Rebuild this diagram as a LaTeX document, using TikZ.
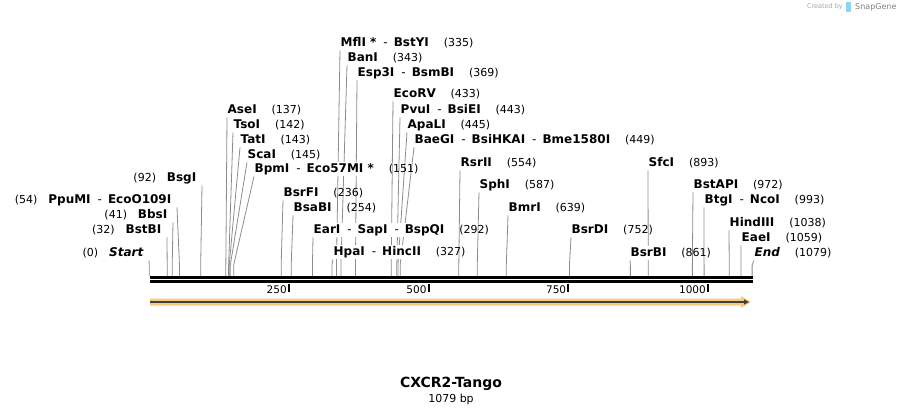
\documentclass[tikz,border=0pt]{standalone}
\usepackage{fontspec}
\setmainfont{DejaVu Sans}
\usetikzlibrary{arrows.meta,positioning,backgrounds}

\definecolor{featorange}{HTML}{F9C97C}
\definecolor{snapblue}{HTML}{8FD3F4}
\newcommand{\dsh}{\hspace{7pt}\mdseries-\hspace{6pt}\bfseries}

\begin{document}
\begin{tikzpicture}[x=1pt,y=-1pt]
            \tikzstyle{enz}=[inner xsep=0.5pt,inner ysep=1.5pt,fill=white,text height=9pt,text depth=2.4pt,font=\bfseries\fontsize{12}{14}\selectfont]
            \tikzstyle{num}=[inner sep=0pt,font=\fontsize{11}{13}\selectfont]
            \tikzstyle{cut}=[draw=black!45,line width=0.8pt]
            \tikzstyle{ruler}=[inner sep=0pt,font=\fontsize{10.5}{12}\selectfont]
                \useasboundingbox (0,0) rectangle (904,415);

                % sites with the label on the left
                \foreach \id/\bp/\lx/\ly/\name in {
                    start/0/144/253/{\itshape Start},
                    bstBI/32/162/230/BstBI,
                    bbsI/41/168/215/BbsI,
                    ppuMI/54/172/200/{PpuMI\dsh EcoO109I},
                    bsgI/92/197/178/BsgI}
                {
                    \node[enz,anchor=east] (l-\id) at (\lx,\ly) {\name};
                    \node[num,base left=10pt of l-\id] (p-\id) {(\bp)};
                    \coordinate (c-\id) at (149.3+\bp*0.5587,276);
                    \begin{scope}[on background layer]
                        \draw[cut] ([xshift=5pt]l-\id.south east) -- ([yshift=11pt]c-\id) -- (c-\id);
                    \end{scope}
                }

                % sites with the label on the right
                \foreach \id/\bp/\lx/\ly/\name in {
                    aseI/137/227/110/AseI,
                    tsoI/142/233/125/TsoI,
                    tatI/143/240/140/TatI,
                    scaI/145/247/155/ScaI,
                    bpmI/151/254/169/{BpmI\dsh Eco57MI\ *},
                    bsrFI/236/283/193/BsrFI,
                    bsaBI/254/293/208/BsaBI,
                    earI/292/313/230/{EarI\dsh SapI\dsh BspQI},
                    hpaI/327/333/252/{HpaI\dsh HincII},
                    mflI/335/340/43/{MflI\ *\dsh BstYI},
                    banI/343/347/58/BanI,
                    esp3I/369/357/73/{Esp3I\dsh BsmBI},
                    ecoRV/433/393/94/EcoRV,
                    pvuI/443/400/110/{PvuI\dsh BsiEI},
                    apaLI/445/407/125/ApaLI,
                    baeGI/449/414/140/{BaeGI\dsh BsiHKAI\dsh Bme1580I},
                    rsrII/554/460/163/RsrII,
                    sphI/587/479/185/SphI,
                    bmrI/639/508/208/BmrI,
                    bsrDI/752/571/230/BsrDI,
                    bsrBI/861/630/253/BsrBI,
                    sfcI/893/648/163/SfcI,
                    bstAPI/972/693/185/BstAPI,
                    btgI/993/704/200/{BtgI\dsh NcoI},
                    hindIII/1038/729/223/HindIII,
                    eaeI/1059/741/238/EaeI,
                    end/1079/754/253/{\itshape End}}
                {
                    \node[enz,anchor=west] (l-\id) at (\lx,\ly) {\name};
                    \node[num,base right=14pt of l-\id] (p-\id) {(\bp)};
                    \coordinate (c-\id) at (149.3+\bp*0.5587,276);
                    \begin{scope}[on background layer]
                        \draw[cut] (l-\id.south west) -- ([yshift=11pt]c-\id) -- (c-\id);
                    \end{scope}
                }

                % the two strands
                \draw[line width=2.6pt] (150,277.3) -- (753,277.3);
                \draw[line width=2.6pt] (150,281.4) -- (753,281.4);

                % ruler
                \foreach \t in {250,500,750,1000}
                {
                    \coordinate (t-\t) at (149.3+\t*0.5587,284);
                    \node[ruler,anchor=east] (n-\t) at ([xshift=-2pt,yshift=-5.5pt]t-\t) {\t};
                    \draw[line width=1.8pt] (t-\t) -- ++(0,8);
                }

                % feature arrow
                \coordinate (f-start) at (150,302);
                \coordinate (f-end) at (749,302);
                \fill[featorange] (150,298.5) -- (741,298.5) -- (741,296) -- (751,302) -- (741,308) -- (741,305.5) -- (150,305.5) -- cycle;
                \draw[line width=1.3pt,draw=black!75,-{Triangle[length=5pt,width=5pt]}] (f-start) -- (f-end);

                % name
                \node[font=\bfseries\fontsize{14}{16}\selectfont] (title) at (451,384) {CXCR2-Tango};
                \node[font=\fontsize{11}{13}\selectfont] (size) at (451,399) {1079 bp};

                % mark
                \node[inner sep=0pt,anchor=east,text=black!35,font=\fontsize{6.5}{7}\selectfont] (made) at (843,7) {Created by};
                \fill[snapblue] (846,2) rectangle (851,12);
                \node[inner sep=0pt,anchor=west,text=black!50,font=\fontsize{8}{9}\selectfont] (snap) at (855,7) {SnapGene};
\end{tikzpicture}
\end{document}
